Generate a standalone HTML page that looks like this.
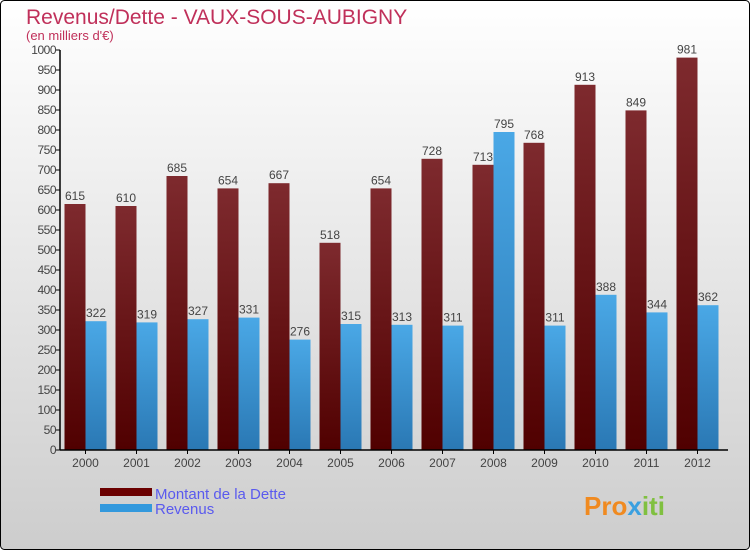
<!DOCTYPE html>
<html><head><meta charset="utf-8"><style>
body{margin:0;}
#wrap{width:750px;height:550px;position:relative;overflow:hidden;font-family:"Liberation Sans",sans-serif;}
</style></head><body>
<div id="wrap">
<svg id="chart" width="750" height="550" xmlns="http://www.w3.org/2000/svg">
<defs>
<linearGradient id="bg" x1="0" y1="0" x2="0" y2="1"><stop offset="0" stop-color="#ffffff"/><stop offset="1" stop-color="#cdcdcd"/></linearGradient>
<linearGradient id="gd" x1="0" y1="0" x2="0" y2="1"><stop offset="0" stop-color="#7e2a2e"/><stop offset="1" stop-color="#500000"/></linearGradient>
<linearGradient id="gr" x1="0" y1="0" x2="0" y2="1"><stop offset="0" stop-color="#4aa8e6"/><stop offset="1" stop-color="#2a78b4"/></linearGradient>
</defs>
<rect x="0.5" y="0.5" width="749" height="549" rx="4" fill="url(#bg)" stroke="#000"/>
<text x="26" y="24" font-size="21" fill="#c0305a">Revenus/Dette - VAUX-SOUS-AUBIGNY</text>
<text x="26" y="40" font-size="13" fill="#c0305a">(en milliers d'€)</text>
<g id="bars"></g>
<g id="axes"></g>
<g>
<rect x="100" y="488" width="52" height="8" fill="#6b0000"/>
<text x="155" y="499" font-size="15" fill="#5a5aee">Montant de la Dette</text>
<rect x="100" y="504" width="52" height="8" fill="#3399dd"/>
<text x="155" y="514" font-size="15" fill="#5a5aee">Revenus</text>
</g>
<text x="584" y="515" font-size="26" font-weight="bold" fill="#f08a20">Pro<tspan fill="#3aa0e0">x</tspan><tspan fill="#80c040">iti</tspan></text>
</svg>
</div>
<script>
const years=["2000","2001","2002","2003","2004","2005","2006","2007","2008","2009","2010","2011","2012"];
const dette=[615,610,685,654,667,518,654,728,713,768,913,849,981];
const revenus=[322,319,327,331,276,315,313,311,795,311,388,344,362];
const yTicks=[0,50,100,150,200,250,300,350,400,450,500,550,600,650,700,750,800,850,900,950,1000];
const NS="http://www.w3.org/2000/svg";
const x0=60,y0=450,yTop=50,step=51;
const y=v=>y0-(v/1000)*(y0-yTop);
function mk(t,a,p){const e=document.createElementNS(NS,t);for(const k in a)e.setAttribute(k,a[k]);p.appendChild(e);return e;}
const bars=document.getElementById('bars'),axes=document.getElementById('axes');
years.forEach((yr,i)=>{
  const cx=x0+step*i+step/2;
  const b1=mk('rect',{x:cx-21,y:y(dette[i]),width:21,height:y0-y(dette[i]),fill:'url(#gd)'},bars);
  
  
  const b2=mk('rect',{x:cx,y:y(revenus[i]),width:21,height:y0-y(revenus[i]),fill:'url(#gr)'},bars);
  
  
  const t1=mk('text',{x:cx-10.5,y:y(dette[i])-4,'font-size':12,fill:'#444','text-anchor':'middle'},bars);t1.textContent=dette[i];
  
  
  const t2=mk('text',{x:cx+10.5,y:y(revenus[i])-4,'font-size':12,fill:'#444','text-anchor':'middle'},bars);t2.textContent=revenus[i];
  
  
  const tl=mk('text',{x:cx,y:467,'font-size':12,fill:'#444','text-anchor':'middle'},axes);tl.textContent=yr;
  
  
  mk('line',{x1:cx,x2:cx,y1:y0,y2:y0+4,stroke:'#000'},axes);
});
yTicks.forEach(v=>{
  mk('line',{x1:x0-4,x2:x0,y1:y(v),y2:y(v),stroke:'#000'},axes);
  const t=mk('text',{x:x0-4,y:y(v)+4,'font-size':12,fill:'#444','text-anchor':'end','letter-spacing':'-0.5'},axes);t.textContent=v;
  
  
});
const ya=mk('line',{x1:x0,x2:x0,y1:yTop,y2:y0,stroke:'#000','stroke-width':1.5},axes);


const xa=mk('line',{x1:x0,x2:728,y1:y0,y2:y0,stroke:'#000','stroke-width':1.5},axes);


</script>
</body></html>
